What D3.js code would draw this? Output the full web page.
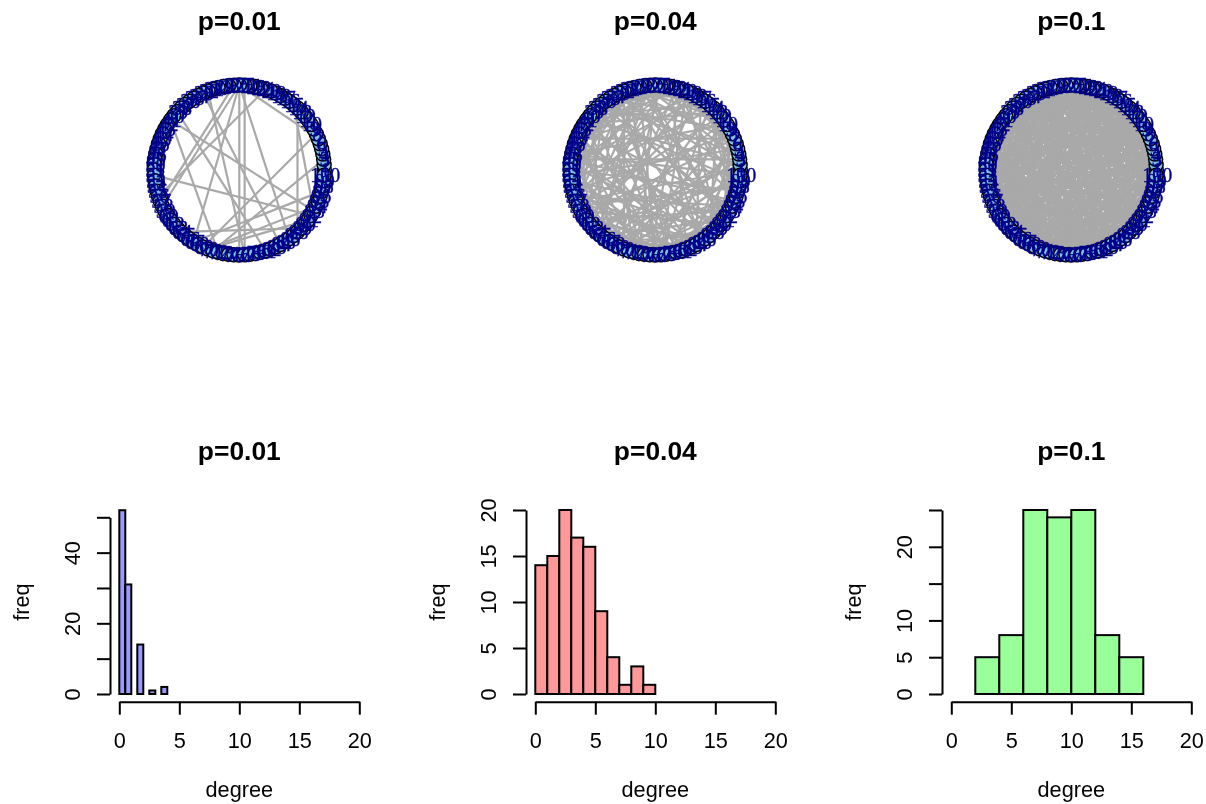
<!DOCTYPE html>
<html><head><meta charset="utf-8">
<script src="https://d3js.org/d3.v7.min.js"></script>
<style>html,body{margin:0;padding:0;background:#fff}svg{display:block;filter:blur(0.4px)}</style>
</head><body><svg id="c" width="1206" height="804"></svg>
<script>
const titles = ["p=0.01","p=0.04","p=0.1"];
const histColors = ["#9999FF","#FF9999","#99FF99"];
const breaks01 = [0,0.5,1,1.5,2,2.5,3,3.5,4];
const counts01 = [52,31,0,14,0,1,0,2];
const breaks04 = [0,1,2,3,4,5,6,7,8,9,10];
const counts04 = [14,15,20,17,16,9,4,1,3,1];
const breaks10 = [2,4,6,8,10,12,14,16];
const counts10 = [5,8,25,24,25,8,5];
const xTicks = [0,5,10,15,20];
const yTicks01 = [0,10,20,30,40,50], yLabels01 = [0,20,40];
const yTicks04 = [0,5,10,15,20], yLabels04 = [0,5,10,15,20];
const yTicks10 = [0,5,10,15,20,25], yLabels10 = [0,5,10,20];
const vertexIds = d3.range(1,101);
// edges, flat from,to pairs
const edges01 = [25,77,26,76,26,58,26,67,26,86,26,7,21,56,33,84,41,93,52,92,14,88,15,93,8,69,3,71,64,89,70,91,41,72,32,77,27,57,39,81,70,94,67,97,38,46,60,66,75,83,90,99,5,13,18,24,48,53,30,36,95,100,55,62,78,88,10,16,43,50];
const edges04 = [1,34,1,57,1,72,2,41,2,63,3,28,3,49,3,81,4,37,4,66,5,22,5,52,5,90,6,31,6,74,7,45,7,60,8,19,8,55,8,83,9,38,9,70,10,26,10,48,10,93,11,64,11,35,12,58,12,79,13,42,13,87,14,29,14,53,14,68,15,77,15,40,16,61,16,95,17,33,17,50,17,84,18,46,18,71,19,36,19,62,20,56,20,89,21,43,21,75,22,39,22,67,23,51,23,82,24,44,24,59,24,98,25,69,25,47,26,73,26,54,27,85,27,41,28,60,28,91,29,48,29,76,30,65,30,52,31,88,31,57,32,70,32,45,33,96,33,63,34,80,34,55,35,72,35,50,36,92,36,61,37,78,37,58,38,83,38,47,39,74,39,56,40,99,40,66,41,86,41,52,42,77,42,60,43,94,43,68,44,81,44,57,45,73,45,89,46,64,46,90,47,79,47,62,48,84,48,100,49,71,49,95,50,75,50,87,51,66,51,97,52,80,53,70,53,92,54,77,54,88,55,83,56,69,56,94,57,85,58,76,58,98,59,72,59,90,60,82,61,78,61,93,62,86,63,74,63,99,64,81,65,91,66,79,67,87,67,96,68,84,69,89,70,100,71,86,72,93,73,88,74,97,75,92,76,85,77,95,78,90,79,94,80,98,2,18,6,15,9,24,11,30,13,27,16,32,19,28,21,37,23,34,25,40,7,86,12,92,15,96,3,67,4,88,20,77,22,95,27,64,29,91,31,76,33,79,35,86,37,93];
const adj10 = [
[14,27,33,48,52,61,70,84,93],[9,21,38,46,57,66,75,88],[17,29,41,50,63,72,81,96],[12,25,36,44,59,68,79,90],[19,31,42,55,64,77,86,99],
[13,28,39,47,58,71,83,94],[22,34,45,53,67,76,89],[16,30,43,56,65,74,87,98],[24,37,49,60,69,82,91],[18,32,51,62,73,85,95],
[26,40,54,68,78,92],[20,35,47,63,80,97],[29,44,58,72,86,100],[23,38,52,66,81,93],[33,46,59,75,88],
[27,41,55,70,84,96],[31,48,62,79,91],[36,50,67,77,94],[28,43,57,74,89],[34,53,64,83,98],
[39,49,61,76,90],[30,45,69,82,95],[37,56,71,87],[42,54,65,80,99],[35,51,68,85,92],
[47,60,73,88],[38,52,78,94],[44,63,75,97],[40,57,81,90],[49,66,83,100],
[46,59,72,93],[41,55,77,86],[50,64,89,96],[45,61,79,91],[53,70,84,98],
[48,67,74,92],[58,76,87],[51,69,85,95],[56,73,90],[62,80,94],
[54,71,88,99],[60,78,93],[65,82,97],[52,75,91],[68,86],
[57,79,96],[63,83],[59,72,89],[70,87,100],[61,77,92],
[66,84,94],[74,90],[64,81,98],[69,86],[76,93],
[67,88],[72,85,95],[80,91],[73,97],[78,89],
[71,84],[83,96],[75,92],[87],[79,99],
[82,90],[85,94],[77,88],[81],[91,98],
[86,95],[80,93],[89],[84],[92,100],
[90],[96],[87],[94],[97],
[95,83],[91],[99],[98],[],
[93],[100],[],[96],[],
[],[],[],[],[],
[],[],[],[],[],
[],[],[],[],[]
];
const extra10 = [1,40,1,78,2,55,2,31,3,58,3,88,4,51,4,73,5,37,5,68,6,52,6,79,7,41,7,62,7,95,8,49,8,71,9,54,9,77,10,44,10,66,11,59,11,83,12,52,12,74,13,36,13,65,14,59,14,75,15,53,15,69,16,49,16,77,17,56,17,71,18,60,18,85,19,51,19,66,20,44,20,72,21,55,21,83,22,58,22,74,23,47,23,64,24,51,24,73,25,60,25,78,26,66,26,81,27,59,27,86,28,54,28,69,29,65,29,74,30,58,30,76,31,55,31,84,32,63,32,98,33,57,33,75,34,69,34,88,35,61,35,77,36,58,36,83,37,65,37,71,38,62,38,79,39,64,39,82,40,70,40,86,41,63,41,79,42,68,42,85,43,59,43,74,44,66,44,83,45,72,45,90,46,69,46,84,47,74,47,91,48,66,48,80,49,76,49,93,50,69,50,82,51,73,52,68,53,78,54,72,55,79,56,74,57,82,58,86,60,79,62,81];
const edges10 = adj10.flatMap((ns,i)=>ns.flatMap(n=>[i+1,n])).concat(extra10);
const edgeSets = [edges01,edges04,edges10];
const histData = [[breaks01,counts01,[0,50],yTicks01,yLabels01],[breaks04,counts04,[0,20],yTicks04,yLabels04],[breaks10,counts10,[0,25],yTicks10,yLabels10]];
const font = "'Liberation Sans',Arial,sans-serif";
const svg = d3.select("#c");
const panelX = [119.3,535.3,951.3];
panelX.forEach((x0,p)=>{
  const cx = x0+120, cy = 170, R = 85;
  const ang = d3.scaleLinear().domain([1,101]).range([0,2*Math.PI]);
  const vx = d3.scaleLinear().domain([-1,1]).range([cx-R,cx+R]);
  const vy = d3.scaleLinear().domain([-1,1]).range([cy+R,cy-R]);
  const g = svg.append("g");
  const e = edgeSets[p];
  const pairs = d3.range(0,e.length,2).map(i=>[e[i],e[i+1]]);
  g.selectAll("line.e").data(pairs).join("line")
    .attr("x1",d=>vx(Math.cos(ang(d[0])))).attr("y1",d=>vy(Math.sin(ang(d[0]))))
    .attr("x2",d=>vx(Math.cos(ang(d[1])))).attr("y2",d=>vy(Math.sin(ang(d[1]))))
    .attr("stroke","#A9A9A9").attr("stroke-width",2.2);
  g.selectAll("circle").data(vertexIds).join("circle")
    .attr("cx",d=>vx(Math.cos(ang(d)))).attr("cy",d=>vy(Math.sin(ang(d)))).attr("r",7)
    .attr("fill","#7EC0EE").attr("stroke","#000").attr("stroke-width",1.5);
  g.selectAll("text").data(vertexIds).join("text")
    .attr("x",d=>vx(Math.cos(ang(d)))+1).attr("y",d=>vy(Math.sin(ang(d)))+7)
    .attr("text-anchor","middle").attr("fill","#00008B").attr("stroke","#00008B").attr("stroke-width",0.35)
    .style("font","20px 'Liberation Serif',serif").text(d=>d);
  [30,459.5].forEach(y=>svg.append("text").attr("x",cx).attr("y",y).attr("text-anchor","middle")
    .style("font","bold 26.4px "+font).text(titles[p]));

  const [br,ct,dom,yt,yl] = histData[p];
  const x = d3.scaleLinear().domain([0,20]).range([x0,x0+240]);
  const y = d3.scaleLinear().domain(dom).range([694,dom[1]===50?517.3:510]);
  const h = svg.append("g");
  h.selectAll("rect").data(ct.map((c,i)=>({c,a:br[i],b:br[i+1]})).filter(d=>d.c>0)).join("rect")
    .attr("x",d=>x(d.a)).attr("width",d=>x(d.b)-x(d.a))
    .attr("y",d=>y(d.c)).attr("height",d=>y(0)-y(d.c))
    .attr("fill",histColors[p]).attr("stroke","#000").attr("stroke-width",2);
  const ax = h.append("g").attr("transform","translate(0,701.7)")
    .call(d3.axisBottom(x).tickValues(xTicks).tickSize(13).tickSizeOuter(0));
  ax.selectAll("text").attr("y",46).attr("dy",0).style("font","21.7px "+font);
  const ay = h.append("g").attr("transform",`translate(${x0-9.3},0)`)
    .call(d3.axisLeft(y).tickValues(yt).tickSize(13).tickSizeOuter(0).tickFormat(d=>yl.includes(d)?d:""));
  ay.selectAll("text").attr("x",0).attr("dy",0).attr("y",-30).attr("text-anchor","middle")
    .attr("transform","rotate(-90)").style("font","21.7px "+font);
  [ax,ay].forEach(a=>{a.selectAll("path,line").attr("stroke","#000").attr("stroke-width",2);a.selectAll("text").attr("fill","#000");});
  h.append("text").attr("x",x0+120).attr("y",797).attr("text-anchor","middle").style("font","21.7px "+font).text("degree");
  h.append("text").attr("transform",`translate(${x0-90.5},602) rotate(-90)`).attr("text-anchor","middle").style("font","21.7px "+font).text("freq");
});
</script></body></html>
